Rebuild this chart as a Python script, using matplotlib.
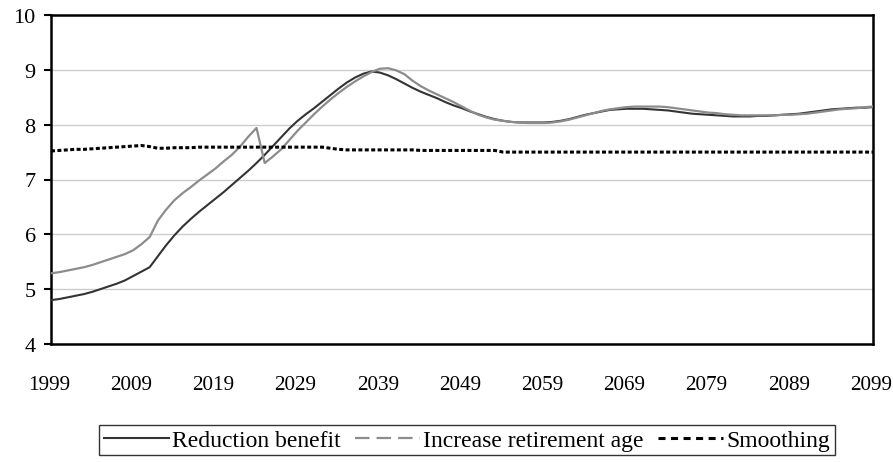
import matplotlib
matplotlib.use("Agg")
import matplotlib.pyplot as plt
import matplotlib.transforms as mtransforms
from matplotlib.lines import Line2D

years = list(range(1999, 2100))

reduction_benefit = [
    4.80, 4.82, 4.85, 4.88, 4.91, 4.95, 5.00, 5.05, 5.10, 5.16,  # 1999-2008
    5.24, 5.32, 5.40, 5.60, 5.80, 5.98, 6.14, 6.28, 6.41, 6.53,  # 2009-2018
    6.65, 6.77, 6.90, 7.03, 7.16, 7.30, 7.45, 7.61, 7.77, 7.93,  # 2019-2028
    8.07, 8.19, 8.30, 8.42, 8.54, 8.66, 8.77, 8.86, 8.93, 8.97,  # 2029-2038
    8.95, 8.90, 8.83, 8.75, 8.67, 8.60, 8.54, 8.48, 8.41, 8.35,  # 2039-2048
    8.30, 8.24, 8.19, 8.14, 8.10, 8.07, 8.05, 8.04, 8.04, 8.04,  # 2049-2058
    8.04, 8.05, 8.07, 8.10, 8.14, 8.18, 8.21, 8.24, 8.27, 8.28,  # 2059-2068
    8.29, 8.29, 8.29, 8.28, 8.27, 8.26, 8.24, 8.22, 8.20, 8.19,  # 2069-2078
    8.18, 8.17, 8.16, 8.15, 8.15, 8.15, 8.16, 8.16, 8.17, 8.18,  # 2079-2088
    8.19, 8.20, 8.22, 8.24, 8.26, 8.28, 8.29, 8.30, 8.31, 8.31,  # 2089-2098
    8.32,                                                        # 2099
]

increase_retirement_age = [
    5.29, 5.31, 5.34, 5.37, 5.40, 5.44, 5.49, 5.54, 5.59, 5.64,  # 1999-2008
    5.71, 5.82, 5.95, 6.25, 6.45, 6.62, 6.75, 6.86, 6.98, 7.09,  # 2009-2018
    7.20, 7.33, 7.45, 7.60, 7.78, 7.94, 7.30, 7.42, 7.55, 7.72,  # 2019-2028
    7.89, 8.04, 8.19, 8.33, 8.46, 8.58, 8.69, 8.79, 8.88, 8.96,  # 2029-2038
    9.02, 9.03, 8.99, 8.92, 8.80, 8.70, 8.62, 8.55, 8.48, 8.41,  # 2039-2048
    8.33, 8.25, 8.18, 8.13, 8.09, 8.07, 8.05, 8.04, 8.03, 8.03,  # 2049-2058
    8.03, 8.04, 8.06, 8.09, 8.13, 8.17, 8.21, 8.25, 8.28, 8.30,  # 2059-2068
    8.32, 8.33, 8.33, 8.33, 8.33, 8.32, 8.30, 8.28, 8.26, 8.24,  # 2069-2078
    8.22, 8.21, 8.19, 8.18, 8.17, 8.17, 8.17, 8.17, 8.17, 8.18,  # 2079-2088
    8.18, 8.19, 8.20, 8.22, 8.24, 8.26, 8.28, 8.29, 8.30, 8.32,  # 2089-2098
    8.33,                                                        # 2099
]

smoothing = [
    7.52, 7.53, 7.54, 7.55, 7.55, 7.56, 7.57, 7.58, 7.59, 7.60,  # 1999-2008
    7.61, 7.62, 7.60, 7.57, 7.57, 7.58, 7.58, 7.58, 7.59, 7.59,  # 2009-2018
    7.59, 7.59, 7.59, 7.59, 7.59, 7.59, 7.59, 7.59, 7.59, 7.59,  # 2019-2028
    7.59, 7.59, 7.59, 7.59, 7.57, 7.55, 7.54, 7.54, 7.54, 7.54,  # 2029-2038
    7.54, 7.54, 7.54, 7.54, 7.54, 7.53, 7.53, 7.53, 7.53, 7.53,  # 2039-2048
    7.53, 7.53, 7.53, 7.53, 7.53, 7.50, 7.50, 7.50, 7.50, 7.50,  # 2049-2058
    7.50, 7.50, 7.50, 7.50, 7.50, 7.50, 7.50, 7.50, 7.50, 7.50,  # 2059-2068
    7.50, 7.50, 7.50, 7.50, 7.50, 7.50, 7.50, 7.50, 7.50, 7.50,  # 2069-2078
    7.50, 7.50, 7.50, 7.50, 7.50, 7.50, 7.50, 7.50, 7.50, 7.50,  # 2079-2088
    7.50, 7.50, 7.50, 7.50, 7.50, 7.50, 7.50, 7.50, 7.50, 7.50,  # 2089-2098
    7.50,                                                        # 2099
]

x_ticks = [1999, 2009, 2019, 2029, 2039, 2049, 2059, 2069, 2079, 2089, 2099]
y_ticks = [4, 5, 6, 7, 8, 9, 10]
series_labels = ["Reduction benefit", "Increase retirement age", "Smoothing"]

plt.rcParams['font.family'] = ['Liberation Serif', 'DejaVu Serif']

fig = plt.figure(figsize=(8.93, 4.64), dpi=100)
ax = fig.add_axes([51 / 893, 1 - 345 / 464, (873 - 51) / 893, (345 - 16) / 464])

dark = "#333333"
gray = "#8c8c8c"

ax.plot(years, reduction_benefit, color=dark, lw=1.5, solid_joinstyle='round', zorder=3)
ax.plot(years, increase_retirement_age, color=gray, lw=1.6, zorder=4)
ax.plot(years, smoothing, color="black", lw=2.2, linestyle=(0, (1.3, 0.8)),
        dash_capstyle='butt', zorder=5)

ax.set_xlim(1999, 2099)
ax.set_ylim(4, 10)
ax.set_yticks(y_ticks)
ax.set_yticklabels([str(v) for v in y_ticks])
ax.set_xticks(x_ticks)
ax.set_xticklabels([str(v) for v in x_ticks])

ax.yaxis.grid(True, color="#cccccc", lw=1.0)
ax.set_axisbelow(True)

for s in ax.spines.values():
    s.set_color("black")
    s.set_linewidth(1.8)

ax.tick_params(axis='y', length=5, width=1.5, direction='out', pad=6,
               labelsize=16, colors='black')
ax.tick_params(axis='x', length=0, pad=22, labelsize=15.3, colors='black')

shift = mtransforms.ScaledTranslation(-2 / 100, 0, fig.dpi_scale_trans)
for lab in ax.get_xticklabels():
    lab.set_transform(lab.get_transform() + shift)

handles = [
    Line2D([], [], color=dark, lw=1.5),
    Line2D([], [], color=gray, lw=1.6, linestyle=(0, (6.5, 3.2))),
    Line2D([], [], color="black", lw=2.2, linestyle=(0, (2.3, 1.8))),
]
leg = fig.legend(handles, series_labels, loc='center',
                 bbox_to_anchor=(467 / 893, 1 - 441 / 464), ncol=3,
                 frameon=True, fancybox=False, edgecolor='black',
                 fontsize=17, handlelength=2.75, handletextpad=0.15,
                 columnspacing=0.6, borderpad=0.2, borderaxespad=0)
leg.get_frame().set_linewidth(1.0)

fig.savefig("out.png", dpi=100)
